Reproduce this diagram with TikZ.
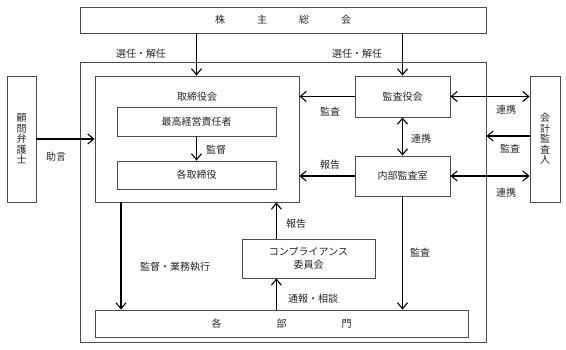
\documentclass[tikz,border=0pt]{standalone}
\usepackage{fontspec}
\setmainfont{Noto Sans CJK JP}
\usetikzlibrary{arrows.meta}
\begin{document}
\begin{tikzpicture}[x=1pt,y=-1pt,
  font=\fontsize{10}{12}\selectfont,
  box/.style={draw=black!70,line width=0.8pt,rectangle,inner sep=0pt,text=black!85},
  lbl/.style={inner sep=0pt,text=black!85},
  arr/.style={line width=1.2pt,-{Straight Barb[length=6pt,width=10pt,line width=1.1pt]}},
  darr/.style={line width=1.2pt,{Straight Barb[length=6pt,width=10pt,line width=1.1pt]}-{Straight Barb[length=6pt,width=10pt,line width=1.1pt]}}]
\useasboundingbox (0,0) rectangle (566,350);
% boxes
\node[box,minimum width=406pt,minimum height=26pt] (sh) at (283,20) {株\hspace{32pt}主\hspace{32pt}総\hspace{32pt}会};
\node[box,minimum width=406pt,minimum height=280pt] (outer) at (283,202) {};
\node[box,minimum width=204pt,minimum height=126pt] (bod) at (197,139) {};
\node[lbl] (bodl) at (197,97) {取締役会};
\node[box,minimum width=159pt,minimum height=29pt] (ceo) at (196.5,121.5) {最高経営責任者};
\node[box,minimum width=159pt,minimum height=28pt] (dirs) at (196.5,175) {各取締役};
\node[box,minimum width=29pt,minimum height=126pt,align=center,font=\fontsize{10}{10.5}\selectfont] (law) at (21.5,139) {顧\\問\\弁\\護\\士};
\node[box,minimum width=95pt,minimum height=41pt] (aud) at (402.5,96.5) {監査役会};
\node[box,minimum width=95pt,minimum height=40pt] (ia) at (402.5,176) {内部監査室};
\node[box,minimum width=30pt,minimum height=126pt,align=center,font=\fontsize{10}{10.5}\selectfont] (ext) at (545,139) {会\\計\\監\\査\\人};
\node[box,minimum width=133pt,minimum height=39pt,align=center,font=\fontsize{10}{13}\selectfont] (comp) at (308.5,258.5) {コンプライアンス\\委員会};
\node[box,minimum width=373pt,minimum height=27pt] (dept) at (281.5,323.5) {各\hspace{55pt}部\hspace{55pt}門};
% coordinates
\coordinate (bx) at (121,202);
% arrows
\draw[arr] (ceo.north |- sh.south) -- (ceo.north |- bod.north);
\draw[arr] (aud.north |- sh.south) -- (aud.north);
\draw[arr] (law.east) -- (law.east -| bod.west);
\draw[arr] (ceo) -- (dirs);
\draw[arr] (aud.west) -- (aud.west -| bod.east);
\draw[darr] (aud) -- (ia);
\draw[darr] (aud.east) -- (aud.east -| ext.west);
\draw[arr] ([yshift=3pt]ext.west) -- ([yshift=3pt]ext.west -| outer.east);
\draw[arr] (ia.west) -- (ia.west -| bod.east);
\draw[darr] (ia.east) -- (ia.east -| ext.west);
\draw[arr] (ia) -- (ia |- dept.north);
\draw[arr] (bx) -- (bx |- dept.north);
\draw[arr] (comp.north -| dirs.east) -- (bod.south -| dirs.east);
\draw[arr] (dept.north -| dirs.east) -- (comp.south -| dirs.east);
% labels
\node[lbl] (l1) at (141,54) {選任・解任};
\node[lbl] (l2) at (357,54) {選任・解任};
\node[lbl] (l3) at (56,157) {助言};
\node[lbl] (l4) at (216,150) {監督};
\node[lbl] (l5) at (330,112) {監査};
\node[lbl] (l6) at (421,139) {連携};
\node[lbl] (l7) at (506,110) {連携};
\node[lbl] (l8) at (510,149) {監査};
\node[lbl] (l9) at (330,165) {報告};
\node[lbl] (l10) at (506,193) {連携};
\node[lbl] (l11) at (420,253) {監査};
\node[lbl] (l12) at (175,267) {監督・業務執行};
\node[lbl] (l13) at (296,224) {報告};
\node[lbl] (l14) at (313,299) {通報・相談};
\end{tikzpicture}
\end{document}
